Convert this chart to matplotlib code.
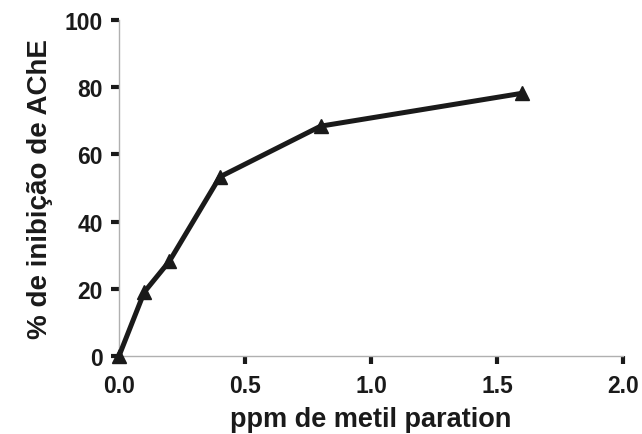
import matplotlib
matplotlib.use("Agg")
import matplotlib.pyplot as plt

ppm = [0.0, 0.1, 0.2, 0.4, 0.8, 1.6]
inhibition = [0.0, 19.0, 28.2, 53.3, 68.4, 78.2]
x_ticks = [0.0, 0.5, 1.0, 1.5, 2.0]
x_ticklabels = ["0.0", "0.5", "1.0", "1.5", "2.0"]
y_ticks = [0, 20, 40, 60, 80, 100]
y_ticklabels = ["0", "20", "40", "60", "80", "100"]

plt.rcParams['font.family'] = ['Liberation Sans', 'DejaVu Sans']
plt.rcParams['font.weight'] = 'bold'

fig = plt.figure(figsize=(6.42, 4.35), dpi=100)
ax = fig.add_axes([119/642, 1 - 357/435, (623-119)/642, (357-21)/435])

ax.plot(ppm, inhibition, color='#1a1a1a', linewidth=3.6, marker='^',
        markersize=10.5, clip_on=False, zorder=3)

ax.set_xlim(0, 2.0)
ax.set_ylim(0, 100)
ax.set_xticks(x_ticks)
ax.set_xticklabels(x_ticklabels)
ax.set_yticks(y_ticks)
ax.set_yticklabels(y_ticklabels)

for side in ['top', 'right']:
    ax.spines[side].set_visible(False)
for side in ['left', 'bottom']:
    ax.spines[side].set_color('#b0b0b0')
    ax.spines[side].set_linewidth(1.0)

ax.tick_params(axis='both', direction='out', length=6, width=3.0,
               color='#1a1a1a', labelsize=16.5, labelcolor='#1a1a1a')
ax.tick_params(axis='x', pad=7)
ax.tick_params(axis='y', pad=5.5)
for lab in ax.get_xticklabels() + ax.get_yticklabels():
    lab.set_fontweight('bold')

ax.set_xlabel('ppm de metil paration', fontsize=19.5, fontweight='bold',
              color='#1a1a1a')
ax.xaxis.set_label_coords(0.5, (357 - 427) / 336, transform=ax.transAxes)
ax.xaxis.label.set_va('baseline')
ax.set_ylabel('% de inibição de AChE', fontsize=20, fontweight='bold',
              color='#1a1a1a')
ax.yaxis.set_label_coords((40 - 119) / 504, 0.5, transform=ax.transAxes)
ax.yaxis.label.set_va('center')

fig.savefig('out.png', dpi=100)
